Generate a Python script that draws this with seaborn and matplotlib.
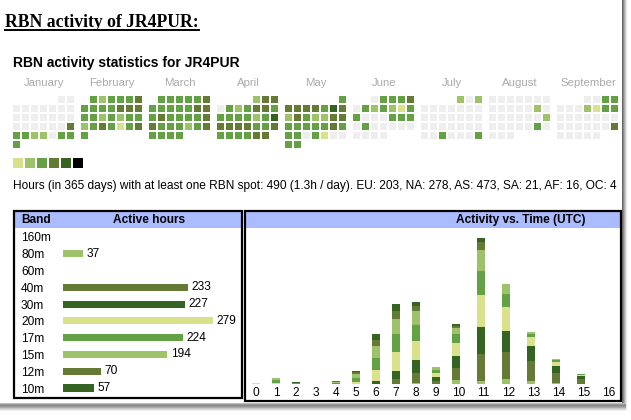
import datetime
import numpy as np
import pandas as pd
import matplotlib.pyplot as plt
from matplotlib.colors import ListedColormap
from matplotlib.patches import Rectangle
from matplotlib.lines import Line2D
import seaborn as sns

plt.rcParams['font.family'] = ['Liberation Sans', 'DejaVu Sans']

W, H = 631, 420

# activity level per day (0 = no spot, 1..6 = light -> dark)
jan = [0, 0,
       0, 0, 0, 0, 0, 0, 0,
       0, 0, 0, 0, 0, 0, 0,
       0, 0, 0, 0, 0, 0, 4,
       3, 3, 2, 2, 0, 3, 3,
       3]
feb = [3, 2, 3, 3, 3, 4,
       3, 3, 3, 3, 4, 4, 4,
       3, 3, 2, 3, 2, 3, 3,
       2, 3, 4, 3, 1, 3, 4,
       3]
mar = [3, 3, 3, 3, 3, 4,
       3, 3, 3, 3, 3, 4, 4,
       3, 4, 3, 3, 3, 3, 4,
       4, 3, 3, 3, 2, 3, 4,
       3, 3, 3, 3]
apr = [2, 4, 4,
       0, 3, 2, 3, 4, 4, 3,
       3, 3, 3, 3, 2, 3, 5,
       4, 4, 4, 4, 3, 3, 4,
       3, 3, 3, 3, 4, 4]
may = [3,
       4, 4, 4, 4, 3, 5, 4,
       2, 4, 3, 2, 2, 4, 4,
       3, 3, 3, 3, 3, 4, 3,
       3, 3, 0, 3, 1, 0, 0,
       3, 3]
jun = [0, 3, 3, 3, 4,
       0, 3, 2, 3, 2, 1, 3,
       3, 0, 0, 0, 3, 3, 3,
       0, 3, 0, 0, 0, 0, 0,
       0, 0, 0, 0]
jul = [2, 0, 2,
       0, 0, 0, 0, 0, 0, 0,
       0, 0, 0, 0, 0, 0, 0,
       0, 0, 0, 0, 0, 0, 0,
       0, 0, 3, 0, 0, 0, 3]
aug = [0, 0, 0, 0, 0, 0, 0,
       0, 0, 0, 0, 0, 2, 0,
       0, 0, 0, 0, 0, 0, 2,
       0, 0, 0, 0, 0, 3, 0,
       0, 0, 0]
sep = [0, 0, 3, 3,
       0, 0, 0, 2, 1, 3, 3,
       0, 0, 0, 0, 0, 0, 0,
       0, 0, 0, 0, 0, 0, 4,
       0, 0, 0, 0, 0]
month_names = ['January', 'February', 'March', 'April', 'May', 'June',
               'July', 'August', 'September']
month_days = [jan, feb, mar, apr, may, jun, jul, aug, sep]

bands = ['160m', '80m', '60m', '40m', '30m', '20m', '17m', '15m', '12m', '10m']
band_hours = [0, 37, 0, 233, 227, 279, 224, 194, 70, 57]

# hours of activity per UTC hour, by band
utc_hours = [str(h) for h in range(17)]
hour_80m = [0, 0, 0, 0, 0, 0, 0, 0, 2, 0, 8, 6, 10, 6, 2, 0, 0]
hour_40m = [0, 0, 0, 0, 0, 0, 0, 10, 20, 6, 24, 54, 54, 40, 20, 10, 0]
hour_30m = [0, 0, 0, 0, 0, 0, 6, 16, 26, 8, 24, 54, 42, 30, 14, 6, 0]
hour_20m = [2, 2, 0, 0, 0, 4, 22, 38, 38, 8, 26, 64, 48, 18, 8, 2, 0]
hour_17m = [0, 6, 2, 0, 2, 8, 24, 36, 32, 6, 18, 48, 26, 6, 4, 2, 0]
hour_15m = [0, 4, 0, 0, 2, 8, 24, 30, 28, 6, 12, 42, 20, 4, 2, 0, 0]
hour_12m = [0, 0, 0, 0, 2, 4, 12, 16, 10, 0, 4, 16, 0, 0, 0, 0, 0]
hour_10m = [0, 0, 2, 0, 0, 2, 12, 14, 8, 0, 4, 8, 0, 0, 0, 0, 0]

grey = '#eeeeee'
levels = ['#d9e28b', '#9dc26a', '#64a044', '#647a35', '#356321', '#000000']
band_colors = {'160m': levels[0], '80m': levels[1], '60m': levels[2],
               '40m': levels[3], '30m': levels[4], '20m': levels[0],
               '17m': levels[2], '15m': levels[1], '12m': levels[3],
               '10m': levels[4]}
header_blue = '#aabbff'
fs = 8.6


def fbox(x0, y0, x1, y1):
    # pixel box (top-left origin) -> figure fraction rect
    return [x0 / W, 1 - y1 / H, (x1 - x0) / W, (y1 - y0) / H]


def fpt(x, y):
    return x / W, 1 - y / H


fig = plt.figure(figsize=(W / 100, H / 100), dpi=100)

# titles
title = fig.text(*fpt(5, 27), 'RBN activity of JR4PUR:', fontfamily='Liberation Serif',
                 fontweight='bold', fontsize=12.7, va='baseline')
fig.text(*fpt(13, 67), 'RBN activity statistics for JR4PUR', fontweight='bold',
         fontsize=10, va='baseline')
fig.text(*fpt(13, 189), 'Hours (in 365 days) with at least one RBN spot: 490 (1.3h / day). '
         'EU: 203, NA: 278, AS: 473, SA: 21, AF: 16, OC: 4', fontsize=fs, va='baseline')

# calendar
cal_cmap = ListedColormap([grey] + levels)
for m, days in enumerate(month_days):
    start = datetime.date(2022, m + 1, 1).weekday()
    grid = np.full(42, np.nan)
    grid[start:start + len(days)] = days
    grid = grid.reshape(6, 7)
    x0 = 12 + 68 * m
    ax = fig.add_axes(fbox(x0, 95, x0 + 63, 149))
    sns.heatmap(grid, ax=ax, cmap=cal_cmap, vmin=-0.5, vmax=6.5, cbar=False,
                linewidths=1.3, linecolor='white', xticklabels=False, yticklabels=False)
    ax.set_axis_off()
    fig.text(*fpt(x0 + 32, 86), month_names[m], ha='center', va='baseline',
             color='#aaaaaa', fontsize=8.2)

# level legend
ax = fig.add_axes(fbox(12, 157, 84, 169))
sns.heatmap(np.array([[1, 2, 3, 4, 5, 6]]), ax=ax, cmap=cal_cmap, vmin=-0.5, vmax=6.5,
            cbar=False, linewidths=1.44, linecolor='white', xticklabels=False,
            yticklabels=False)
ax.set_axis_off()

# table frames
fig.add_artist(Rectangle(fpt(15, 228), 226 / W, 16 / H, transform=fig.transFigure,
                         facecolor=header_blue, edgecolor='none'))
fig.add_artist(Rectangle(fpt(246, 228), 375 / W, 16 / H, transform=fig.transFigure,
                         facecolor=header_blue, edgecolor='none'))
fig.add_artist(Rectangle(fpt(14, 398), 228 / W, 187 / H, transform=fig.transFigure,
                         facecolor='none', edgecolor='black', linewidth=1.6))
fig.add_artist(Rectangle(fpt(244.5, 401), 376.5 / W, 190 / H, transform=fig.transFigure,
                         facecolor='none', edgecolor='black', linewidth=1.6))
fig.text(*fpt(21, 220), 'Band', fontweight='bold', fontsize=fs, va='center')
fig.text(*fpt(149, 220), 'Active hours', fontweight='bold', fontsize=fs, va='center',
         ha='center')
fig.text(*fpt(521, 220), 'Activity vs. Time (UTC)', fontweight='bold', fontsize=fs,
         va='center', ha='center')

# active hours per band
band_df = pd.DataFrame({'band': bands, 'hours': band_hours})
ax = fig.add_axes(fbox(63, 228.6, 240, 396.4))
sns.barplot(data=band_df, x='hours', y='band', hue='band', palette=band_colors,
            orient='h', width=0.42, saturation=1, legend=False, linewidth=0, ax=ax)
ax.set_xlim(0, 330)
ax.set_ylim(9.5, -0.5)
ax.set_xlabel('')
ax.set_ylabel('')
ax.set_xticks([])
for s in ax.spines.values():
    s.set_visible(False)
ax.tick_params(axis='y', length=0, pad=30.2, labelsize=fs)
for lbl in ax.get_yticklabels():
    lbl.set_horizontalalignment('left')
for i, v in enumerate(band_hours):
    if v:
        ax.text(v + 7, i, str(v), va='center', fontsize=fs)

# activity vs time, stacked bottom -> top
stack = [('80m', hour_80m), ('40m', hour_40m), ('30m', hour_30m), ('20m', hour_20m),
         ('17m', hour_17m), ('15m', hour_15m), ('12m', hour_12m), ('10m', hour_10m)]
col_w = [15 + 5 * len(s) for s in utc_hours]
lefts = np.concatenate([[0], np.cumsum(col_w)[:-1]])
ax = fig.add_axes(fbox(246, 228, 621, 384))
bottom = np.zeros(len(utc_hours))
for band, vals in stack:
    ax.bar(lefts + 10, vals, bottom=bottom, width=8, color=band_colors[band], linewidth=0)
    bottom += np.array(vals)
ax.set_xlim(0, 375)
ax.set_ylim(0, 312)
ax.set_yticks([])
ax.set_xticks(lefts + np.array(col_w) / 2, utc_hours)
ax.tick_params(axis='x', length=0, pad=2.5, labelsize=fs)
for s in ax.spines.values():
    s.set_visible(False)

# page edge: clip and drop shadow
fig.add_artist(Rectangle(fpt(622, 420), 9 / W, 420 / H, transform=fig.transFigure,
                         facecolor='white', edgecolor='none', zorder=20))
fig.add_artist(Rectangle(fpt(0, 420), 631 / W, 17 / H, transform=fig.transFigure,
                         facecolor='white', edgecolor='none', zorder=20))
for k, c in enumerate(['#666666', '#888888', '#aaaaaa', '#cccccc', '#e6e6e6']):
    fig.add_artist(Rectangle(fpt(622 + k, 410), 1 / W, 410 / H, transform=fig.transFigure,
                             facecolor=c, edgecolor='none', zorder=21))
for k, c in enumerate(['#bbbbbb', '#999999', '#888888', '#999999', '#aaaaaa', '#c4c4c4',
                       '#dddddd', '#eeeeee']):
    fig.add_artist(Rectangle(fpt(0, 404 + k), 626 / W, 1 / H, transform=fig.transFigure,
                             facecolor=c, edgecolor='none', zorder=21))

# underline the page title
fig.canvas.draw()
bb = title.get_window_extent()
ty = 1 - 30 / H
fig.add_artist(Line2D([bb.x0 / fig.bbox.width, bb.x1 / fig.bbox.width], [ty, ty],
                      transform=fig.transFigure, color='black', linewidth=1.4))

fig.savefig('out.png', dpi=100)
